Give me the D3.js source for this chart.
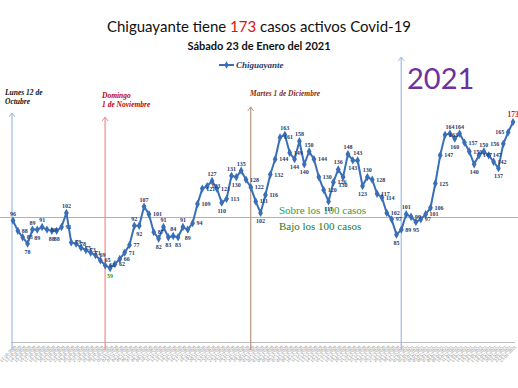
<!DOCTYPE html>
<html>
<head>
<meta charset="utf-8">
<script src="https://cdn.jsdelivr.net/npm/d3@7"></script>
<style>
  body { margin: 0; background: #fff; }
  svg { display: block; }
</style>
</head>
<body>
<svg width="518" height="388"></svg>
<script>
// one report per day, Lunes 12 Oct 2020 .. Sabado 23 Jan 2021
const dates = d3.timeDay.range(new Date(2020, 9, 12), new Date(2021, 0, 24));

const activos = [
  96, 88, 83, 78, 89, 89, 91, 89, 88, 88, 91, 102,
  79, 78, 75, 73, 71, 69, 65, 61,
  59, 62, 66, 71, 77,
  92, 92, 107, 101,
  87, 82, 91, 83, 84, 83, 91, 89, 94,
  109, 121, 123, 127, 121, 110, 113,
  131, 130, 135, 128, 122, 111, 102,
  116, 132, 144, 161, 163,
  149, 144, 158, 140, 150, 144, 130, 120, 111, 126, 136, 130, 148, 143, 143, 123, 130, 128, 117, 114, 102,
  97, 85, 89, 101, 99, 95, 97, 101, 106, 125,
  147, 163, 164, 160, 164, 157, 150, 140, 147, 150, 147, 142, 137, 156, 165, 173
];

const serie = "Chiguayante";
const umbral = 100;
const umbralTextos = ["Sobre los 100 casos", "Bajo los 100 casos"];

const hitos = [
  { fecha: new Date(2020, 9, 12), texto: ["Lunes 12 de", "Octubre"] },
  { fecha: new Date(2020, 10, 1), texto: ["Domingo", "1 de Noviembre"] },
  { fecha: new Date(2020, 11, 1), texto: ["Martes 1 de Diciembre"] },
  { fecha: new Date(2021, 0, 1), texto: ["2021"] }
];

// look of each hito (line offset, arrow top, text place)
const hitoEstilo = [
  { dx: -1, top: 113, line: "#9fbbe3", color: "#111", tx: 5, ty: 95, size: 7.5, font: "Liberation Serif" },
  { dx: -5, top: 117, line: "#f08a8a", color: "#c00000", tx: 102, ty: 98, size: 7.5, font: "Liberation Serif" },
  { dx: -5, top: 107, line: "#b89480", color: "#8b2a10", tx: 250, ty: 96, size: 7.5, font: "Liberation Serif" },
  { dx: -5, top: 57, line: "#9fbbe3", color: "#7030a0", tx: 407, ty: 89, size: 29, font: "Lato" }
];

const svg = d3.select("svg");
const W = +svg.attr("width");
const H = +svg.attr("height");

svg.append("rect").attr("width", W).attr("height", H).attr("fill", "#fff");

const x = d3.scaleTime()
  .domain([dates[0], dates[dates.length - 1]])
  .range([13, 513]);

const y = d3.scaleLinear()
  .domain([0, 200])
  .range([343.5, 87.5]);

const data = dates.map((d, i) => ({ date: d, value: activos[i] }));

// title
const title = svg.append("text")
  .attr("x", W / 2).attr("y", 32)
  .attr("text-anchor", "middle")
  .style("font-family", "Lato, 'Open Sans', sans-serif")
  .style("font-size", "15px")
  .attr("fill", "#111");
title.append("tspan").text(serie + " tiene ");
title.append("tspan").attr("fill", "#e01010").text(activos[activos.length - 1]);
title.append("tspan").text(" casos activos Covid-19");

svg.append("text")
  .attr("x", W / 2).attr("y", 50)
  .attr("text-anchor", "middle")
  .style("font-family", "Lato, 'Open Sans', sans-serif")
  .style("font-size", "11px")
  .style("font-weight", "bold")
  .attr("fill", "#111")
  .text("Sábado 23 de Enero del 2021");

// legend
const leg = svg.append("g").attr("transform", "translate(219,65)");
leg.append("line").attr("x1", 0).attr("x2", 15).attr("stroke", "#3a6fb7").attr("stroke-width", 2);
leg.append("path").attr("d", d3.symbol(d3.symbolDiamond, 16)()).attr("transform", "translate(7.5,0)").attr("fill", "#3a6fb7");
leg.append("text").attr("x", 17).attr("y", 3)
  .style("font-family", "'Liberation Serif', serif")
  .style("font-size", "9px").style("font-style", "italic").style("font-weight", "bold")
  .attr("fill", "#1f3a6e")
  .text(serie);

// x axis with tiny rotated date labels
const xAxis = svg.append("g")
  .attr("class", "axis axis--x")
  .attr("transform", `translate(0,${y(0) - 1})`)
  .call(d3.axisBottom(x).tickValues(dates).tickSize(0).tickPadding(3)
    .tickFormat(d3.timeFormat("%d-%m-%Y")));
xAxis.select(".domain").attr("stroke", "#bdbdbd").attr("d", "M11,0H515");
xAxis.selectAll("text")
  .attr("transform", "rotate(-45)")
  .style("text-anchor", "end")
  .style("font-size", "4.2px")
  .style("font-family", "'Liberation Sans', sans-serif")
  .attr("fill", "#8a8a8a")
  .attr("dx", "-0.3em").attr("dy", "0.6em");

// threshold line + texts
svg.append("line")
  .attr("x1", 0).attr("x2", W)
  .attr("y1", y(umbral) + 2).attr("y2", y(umbral) + 2)
  .attr("stroke", "#86d08a").attr("stroke-width", 1.2);

svg.append("text").attr("x", 279).attr("y", y(umbral) - 2)
  .style("font-family", "'Liberation Serif', serif").style("font-size", "11px")
  .attr("fill", "#2f9e44").text(umbralTextos[0]);
svg.append("text").attr("x", 279).attr("y", y(umbral) + 14)
  .style("font-family", "'Liberation Serif', serif").style("font-size", "11px")
  .attr("fill", "#1b7a2c").text(umbralTextos[1]);

// hitos: vertical arrows and their notes
const defs = svg.append("defs");
hitoEstilo.forEach((s, i) => {
  defs.append("marker")
    .attr("id", "arr" + i)
    .attr("viewBox", "-4 -1 8 6").attr("refX", 0).attr("refY", 0)
    .attr("markerWidth", 8).attr("markerHeight", 6)
    .attr("markerUnits", "userSpaceOnUse")
    .attr("orient", "0")
    .append("path").attr("d", "M-3,4L0,0L3,4")
    .attr("fill", "none").attr("stroke", s.line).attr("stroke-width", 1);
});

hitos.forEach((h, i) => {
  const s = hitoEstilo[i];
  const hx = x(h.fecha) + s.dx;
  svg.append("line")
    .attr("x1", hx).attr("x2", hx)
    .attr("y1", 350).attr("y2", s.top)
    .attr("stroke", s.line).attr("stroke-width", 1.2)
    .attr("marker-end", `url(#arr${i})`);
  const t = svg.append("text")
    .attr("x", s.tx).attr("y", s.ty)
    .style("font-family", `'${s.font}', serif`)
    .style("font-size", s.size + "px")
    .attr("fill", s.color);
  if (i < 3) t.style("font-style", "italic").style("font-weight", "bold");
  h.texto.forEach((line, k) => {
    t.append("tspan").attr("x", s.tx).attr("dy", k === 0 ? 0 : s.size * 1.25).text(line);
  });
});

// series
const line = d3.line().x(d => x(d.date)).y(d => y(d.value));
svg.append("path")
  .datum(data)
  .attr("fill", "none")
  .attr("stroke", "#3a6fb7")
  .attr("stroke-width", 2)
  .attr("stroke-linejoin", "round")
  .attr("d", line);

svg.selectAll(".pt")
  .data(data)
  .enter().append("path")
  .attr("class", "pt")
  .attr("d", d3.symbol(d3.symbolDiamond, 20)())
  .attr("transform", d => `translate(${x(d.date)},${y(d.value)})`)
  .attr("fill", "#3a6fb7");

// data labels: peaks above, dips below, the rest to the side
const last = activos.length - 1;
const minV = d3.min(activos);
svg.selectAll(".lbl")
  .data(data)
  .enter().append("text")
  .attr("class", "lbl")
  .each(function (d, i) {
    const p = i > 0 ? activos[i - 1] : -Infinity;
    const n = i < last ? activos[i + 1] : -Infinity;
    const el = d3.select(this);
    let px = x(d.date), py = y(d.value), anchor = "middle";
    if (d.value >= p && d.value >= n) { py -= 5; }
    else if (d.value <= p && d.value <= n && i > 0 && i < last) { py += 10; }
    else if (px > W - 16) { px -= 4; py += 2; anchor = "end"; }
    else { px += 4; py += 2; anchor = "start"; }
    el.attr("x", px).attr("y", py).attr("text-anchor", anchor);
  })
  .style("font-family", "'Liberation Serif', serif")
  .style("font-weight", "bold")
  .style("font-size", (d, i) => i === last ? "7.5px" : "6px")
  .attr("fill", (d, i) => i === last ? "#e01010" : (d.value === minV ? "#1a9a1a" : "#1f3a6e"))
  .text(d => d.value);
</script>
</body>
</html>
